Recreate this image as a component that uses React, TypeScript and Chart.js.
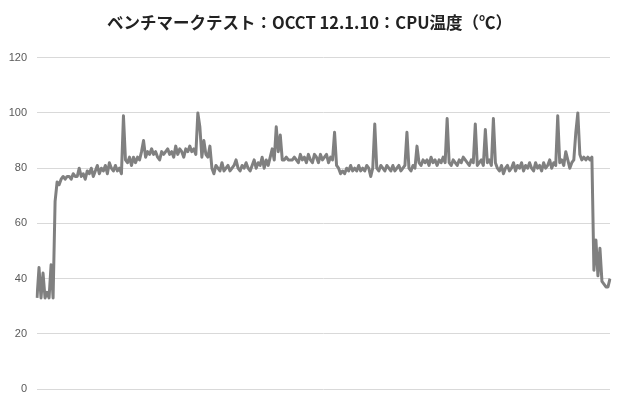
import { useEffect, useRef } from "react"
import { Chart, registerables } from "chart.js"

Chart.register(...registerables)

const chartTitle = "ベンチマークテスト：OCCT 12.1.10：CPU温度（℃）"

// idle before the test starts
const idleStart = [33, 44, 33, 42, 33, 35, 33, 45, 33]

// OCCT load running
const loadPhase = [
  68,
  75, 74, 76, 77, 76, 77, 77, 76, 78, 77,
  77, 80, 77, 78, 76, 79, 78, 80, 77, 79,
  81, 78, 80, 79, 81, 78, 82, 80, 79, 81,
  79, 80, 78, 99, 83, 82, 84, 81, 84, 82,
  84, 83, 86, 90, 84, 86, 85, 87, 85, 86,
  84, 83, 86, 85, 86, 87, 85, 86, 84, 88,
  85, 87, 86, 84, 87, 86, 88, 86, 87, 85,
  100, 95, 84, 90, 85, 84, 88, 80, 78, 81,
  80, 79, 82, 79, 80, 81, 79, 80, 81, 83,
  80, 79, 81, 80, 82, 80, 79, 81, 83, 80,
  82, 81, 84, 80, 83, 81, 84, 87, 83, 95,
  86, 92, 83, 83, 84, 83, 83, 83, 84, 83,
  82, 85, 83, 84, 82, 85, 83, 82, 85, 84,
  82, 85, 83, 84, 85, 82, 84, 83, 93, 81,
  80, 78, 79, 78, 80, 79, 81, 79, 80, 79,
  81, 79, 80, 79, 81, 80, 77, 80, 96, 80,
  79, 81, 80, 79, 81, 80, 79, 81, 79, 80,
  81, 79, 80, 81, 93, 80, 79, 81, 80, 88,
  82, 81, 83, 82, 83, 81, 84, 82, 83, 81,
  83, 82, 84, 82, 98, 82, 81, 83, 82, 81,
  83, 82, 84, 83, 82, 81, 83, 82, 96, 81,
  82, 83, 81, 94, 82, 83, 81, 98, 82, 80,
  79, 81, 78, 80, 81, 79, 80, 82, 79, 81,
  80, 82, 79, 81, 80, 82, 80, 79, 82, 80,
  81, 79, 82, 80, 81, 83, 80, 82, 81, 99,
  82, 83, 81, 86, 83, 80, 82, 83, 93, 100,
  85, 83, 84, 83, 84, 83, 84,
]

// after the test stops
const coolDown = [43, 54, 41, 51, 39, 38, 37, 37, 40]

const cpuTemp = [...idleStart, ...loadPhase, ...coolDown]
const samples = cpuTemp.map((_, i) => String(i + 1))

const yMin = 0
const yMax = 120
const yStep = 20

export default function App() {
  const canvasRef = useRef<HTMLCanvasElement>(null)

  useEffect(() => {
    document.body.style.margin = "0"
    if (!canvasRef.current) return
    const chart = new Chart(canvasRef.current, {
      type: "line",
      data: {
        labels: samples,
        datasets: [
          {
            label: "CPU温度",
            data: cpuTemp,
            borderColor: "#808080",
            borderWidth: 3,
            borderJoinStyle: "round",
            pointRadius: 0,
            tension: 0,
            fill: false,
          },
        ],
      },
      options: {
        animation: false,
        responsive: false,
        maintainAspectRatio: false,
        layout: { padding: { left: 9, right: 10, top: 0, bottom: 11 } },
        plugins: {
          legend: { display: false },
          tooltip: { enabled: false },
          title: {
            display: true,
            text: chartTitle,
            color: "#222222",
            font: { family: "'Noto Sans CJK JP', sans-serif", size: 16.5, weight: "bold" },
            padding: { top: 13, bottom: 25 },
          },
        },
        scales: {
          x: { display: false },
          y: {
            min: yMin,
            max: yMax,
            border: { display: false },
            grid: { color: "#d9d9d9", lineWidth: 1, drawTicks: false },
            afterFit: (axis: any) => {
              // keep the label gap horizontal only
              axis.width = 28
              axis.paddingTop = 6
              axis.paddingBottom = 6
            },
            ticks: {
              stepSize: yStep,
              padding: 10,
              color: "#595959",
              font: { family: "'Liberation Sans', sans-serif", size: 11 },
            },
          },
        },
      },
    })
    return () => chart.destroy()
  }, [])

  return (
    <div style={{ width: 620, height: 400, background: "#fff" }}>
      <canvas ref={canvasRef} width={620} height={400} />
    </div>
  )
}
